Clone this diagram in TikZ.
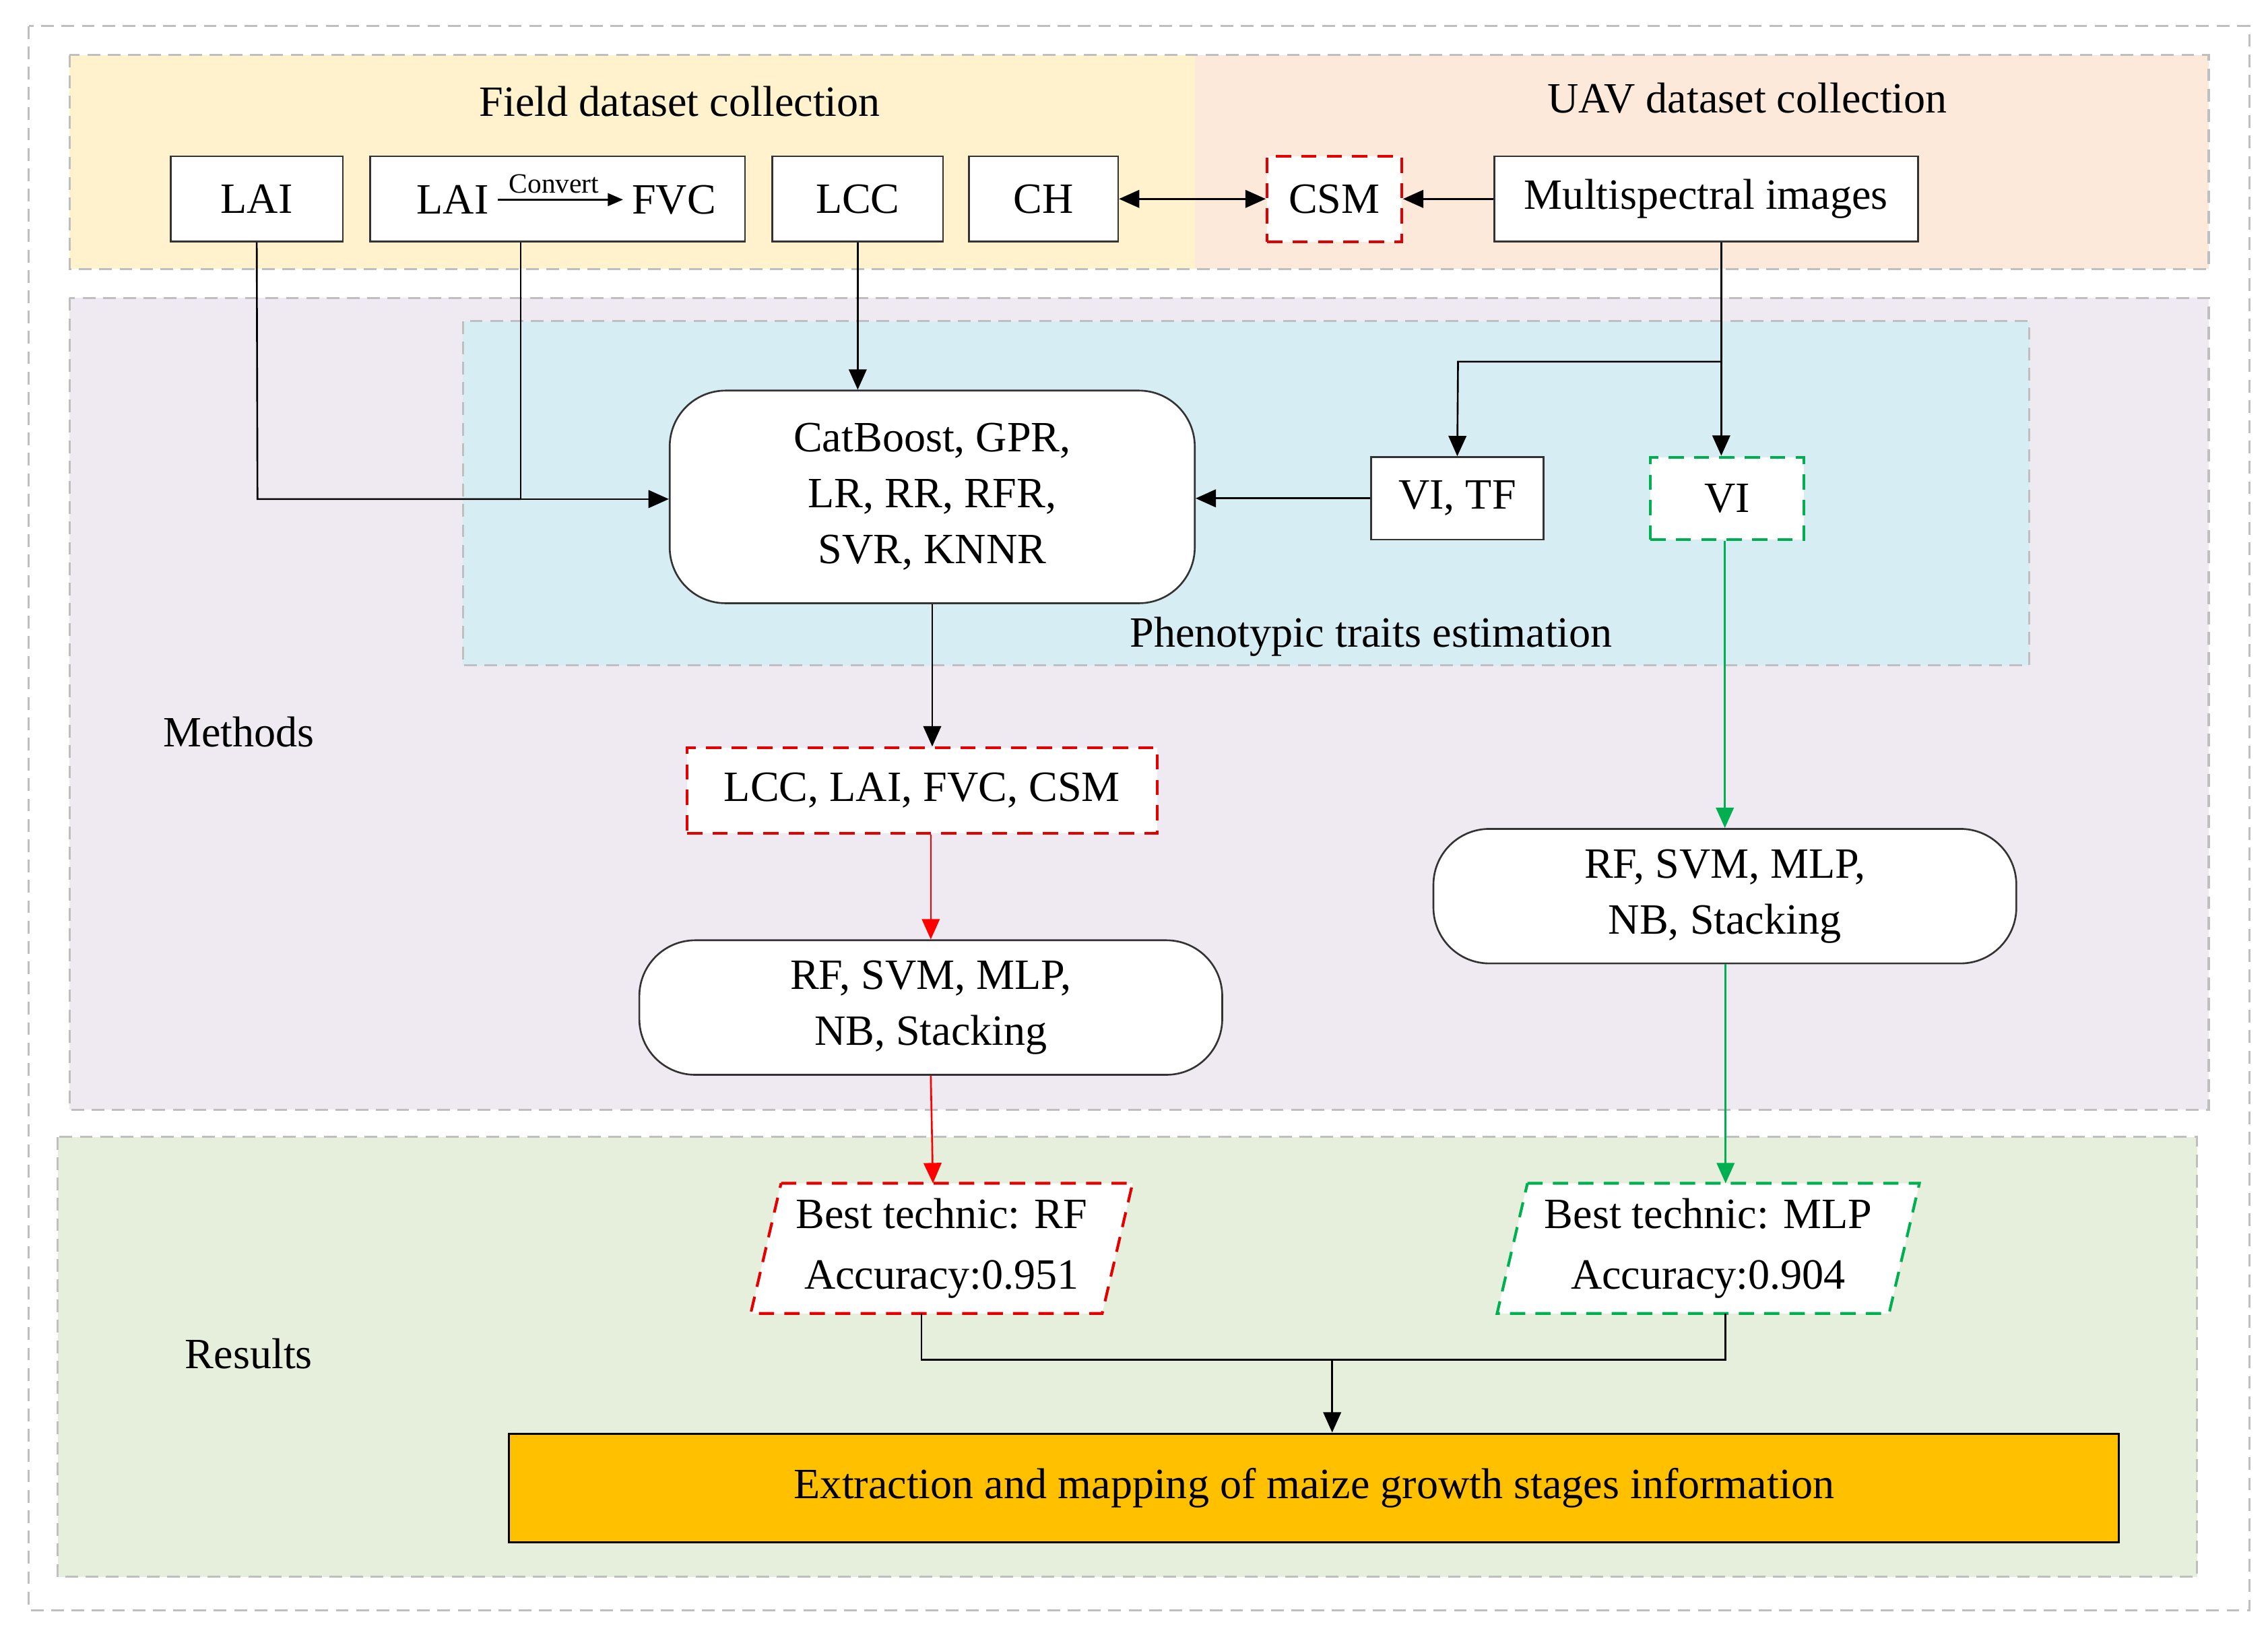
\documentclass[tikz,border=0pt]{standalone}
\usepackage{fontspec}
\setmainfont{Liberation Serif}
\usetikzlibrary{arrows.meta}
\definecolor{gg}{RGB}{0,176,80}
\begin{document}
\begin{tikzpicture}[x=0.02cm,y=-0.02cm,
 every node/.style={font=\fontsize{17}{20}\selectfont},
 bx/.style={draw=black!80,fill=white,line width=0.7pt,inner sep=0},
 rbx/.style={bx,rounded corners=22pt},
 rdash/.style={draw=red!90!black,dash pattern=on 6pt off 4pt,line width=1.1pt,fill=white,inner sep=0},
 gdash/.style={draw=gg,dash pattern=on 6pt off 4pt,line width=1.1pt,fill=white,inner sep=0},
 bgd/.style={draw=gray!50,dash pattern=on 5pt off 3pt,line width=0.8pt},
 ar/.style={-{Triangle[length=8pt,width=7pt]},line width=0.7pt},
 ra/.style={ar,draw=red,-{Triangle[length=8pt,width=7pt,fill=red]}},
 ga/.style={ar,draw=gg,-{Triangle[length=8pt,width=7pt]}}]
\useasboundingbox (0,0) rectangle (1568,1134);
\fill[white] (0,0) rectangle (1568,1134);
\draw[bgd] (20,18) rectangle (1555,1113);
\fill[fill={rgb,255:red,255;green,242;blue,204}] (48,38) rectangle (826,186);
\fill[fill={rgb,255:red,253;green,233;blue,218}] (826,38) rectangle (1527,186);
\draw[bgd] (48,38) rectangle (1527,186);
\filldraw[bgd,fill={rgb,255:red,239;green,234;blue,242}] (48,206) rectangle (1527,767);
\filldraw[bgd,fill={rgb,255:red,214;green,237;blue,244}] (320,222) rectangle (1403,460);
\filldraw[bgd,fill={rgb,255:red,230;green,238;blue,220}] (40,786) rectangle (1519,1090);
\node (t1) at (470,70) {Field dataset collection};
\node (t2) at (1208,68) {UAV dataset collection};
\node (tm) at (165,506) {Methods};
\node (tr) at (172,936) {Results};
\node (tp) at (948,440) {Phenotypic traits estimation};
% top boxes
\node[bx,minimum width=119*0.02cm,minimum height=59*0.02cm] (lai) at (177.5,137.5) {LAI};
\node[bx,minimum width=259*0.02cm,minimum height=59*0.02cm] (conv) at (385.5,137.5) {};
\node (c1) at (313,138) {LAI};
\node (c2) at (466,138) {FVC};
\node[font=\fontsize{11}{12}\selectfont] (c3) at (383,127) {Convert};
\draw[ar,-{Triangle[length=6pt,width=5pt]}] (c1.east) -- (c2.west);
\node[bx,minimum width=118*0.02cm,minimum height=59*0.02cm] (lcc) at (593,137.5) {LCC};
\node[bx,minimum width=103*0.02cm,minimum height=59*0.02cm] (ch) at (721.5,137.5) {CH};
\node[rdash,minimum width=93*0.02cm,minimum height=59*0.02cm] (csm) at (922.5,137.5) {CSM};
\node[bx,minimum width=293*0.02cm,minimum height=59*0.02cm] (ms) at (1179.5,137.5) {Multispectral images};
\draw[ar,{Triangle[length=8pt,width=7pt]}-{Triangle[length=8pt,width=7pt]}] (ch) -- (csm);
\draw[ar] (ms) -- (csm);
% methods
\node[rbx,minimum width=363*0.02cm,minimum height=147*0.02cm,align=center] (cat) at (644.5,343.5) {CatBoost, GPR,\\[2pt] LR, RR, RFR,\\[2pt] SVR, KNNR};
\node[bx,minimum width=119*0.02cm,minimum height=57*0.02cm] (vitf) at (1007.5,344.5) {VI, TF};
\node[gdash,minimum width=106*0.02cm,minimum height=57*0.02cm] (vi) at (1194,344.5) {VI};
\node[rdash,minimum width=325*0.02cm,minimum height=59*0.02cm] (feat) at (637.5,546.5) {LCC, LAI, FVC, CSM};
\node[rbx,minimum width=403*0.02cm,minimum height=93*0.02cm,align=center] (rf1) at (643.5,696.5) {RF, SVM, MLP,\\[2pt] NB, Stacking};
\node[rbx,minimum width=403*0.02cm,minimum height=93*0.02cm,align=center] (rf2) at (1192.5,619.5) {RF, SVM, MLP,\\[2pt] NB, Stacking};
\coordinate (j1) at (178,345);
\coordinate (j2) at (360,345);
\coordinate (b1) at (1190,250);
\coordinate (b2) at (1008,250);
\draw[line width=0.7pt] (lai.south) -- (j1) -- (j2);
\draw[ar] (conv.south-|j2) -- (j2) -- (cat.west|-j2);
\draw[ar] (lcc.south) -- (cat.north-|lcc);
\draw[ar] (ms.south-|b1) -- (vi.north-|b1);
\draw[ar] (b1) -- (b2) -- (vitf.north);
\draw[ar] (vitf.west) -- (cat.east|-vitf);
\draw[ar] (cat.south) -- (feat.north-|cat);
\draw[ra] (feat.south-|rf1) -- (rf1.north);
\draw[ga] (vi.south-|rf2) -- (rf2.north);
% results
\filldraw[rdash] (540,818) -- (783,818) -- (762,908) -- (519,908) -- cycle;
\filldraw[gdash] (1056,818) -- (1327,818) -- (1306,908) -- (1035,908) -- cycle;
\node[align=center] (p1) at (651,863) {Best technic: RF\\[4pt] Accuracy:0.951};
\node[align=center] (p2) at (1181,863) {Best technic: MLP\\[4pt] Accuracy:0.904};
\coordinate (p1t) at (645,818);
\coordinate (p2t) at (1193,818);
\draw[ra] (rf1.south) -- (p1t);
\draw[ga] (rf2.south-|p2t) -- (p2t);
\node[draw=black,fill={rgb,255:red,255;green,192;blue,0},line width=0.8pt,minimum width=1113*0.02cm,minimum height=75*0.02cm] (ext) at (908.5,1028.5) {Extraction and mapping of maize growth stages information};
\coordinate (q1) at (637,940);
\coordinate (q2) at (1193,940);
\draw[line width=0.7pt] (637,908) -- (q1) -- (q2) -- (1193,908);
\draw[ar] (921,940) -- (ext.north-|921,0);
\end{tikzpicture}
\end{document}
